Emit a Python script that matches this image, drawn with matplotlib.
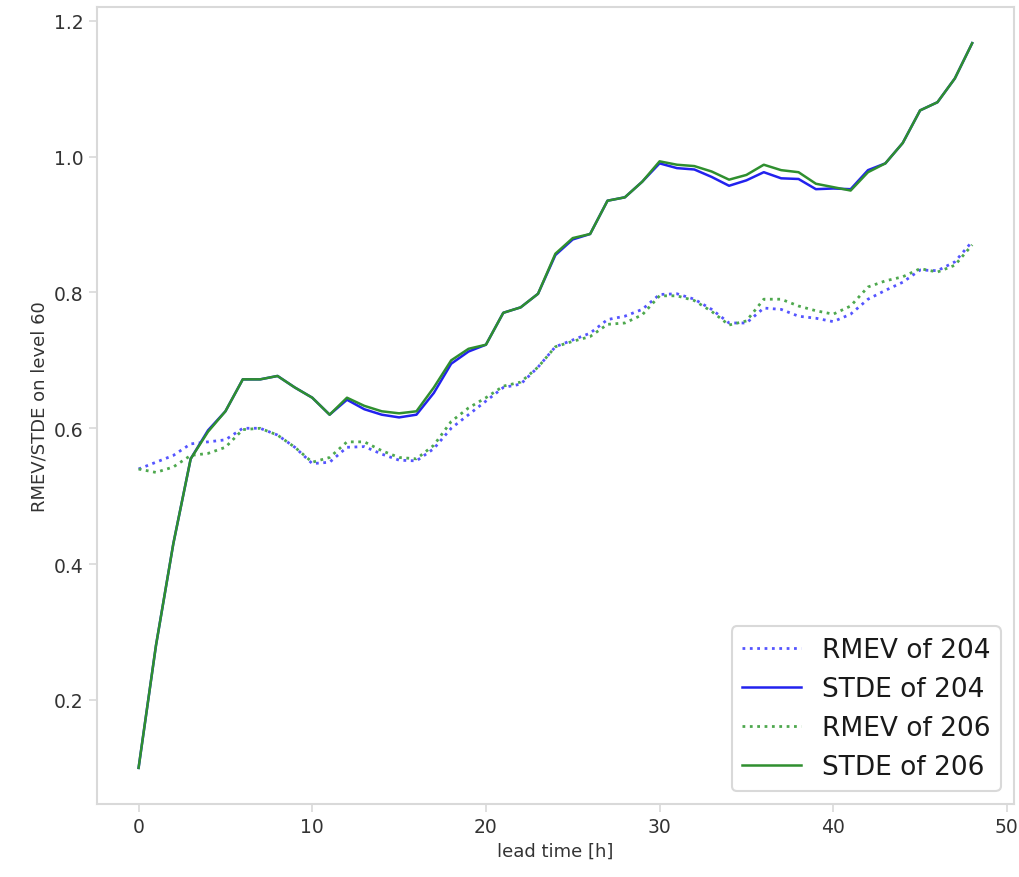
import numpy as np
import matplotlib
matplotlib.use("Agg")
import matplotlib.pyplot as plt

lead_time = np.arange(0, 49)

rmev_204 = [0.540, 0.550, 0.560, 0.577, 0.580, 0.583, 0.600, 0.600, 0.590, 0.572,
            0.548, 0.550, 0.572, 0.573, 0.562, 0.553, 0.552, 0.570, 0.600, 0.620,
            0.640, 0.660, 0.665, 0.690, 0.720, 0.730, 0.740, 0.760, 0.765, 0.775,
            0.797, 0.798, 0.790, 0.775, 0.755, 0.755, 0.777, 0.775, 0.765, 0.762,
            0.757, 0.768, 0.790, 0.803, 0.815, 0.833, 0.832, 0.845, 0.875]

stde_204 = [0.100, 0.280, 0.430, 0.555, 0.597, 0.625, 0.672, 0.672, 0.677, 0.660,
            0.645, 0.620, 0.642, 0.628, 0.620, 0.616, 0.620, 0.652, 0.695, 0.713,
            0.723, 0.770, 0.778, 0.798, 0.855, 0.878, 0.886, 0.935, 0.940, 0.963,
            0.990, 0.983, 0.981, 0.970, 0.957, 0.965, 0.977, 0.968, 0.967, 0.952,
            0.953, 0.952, 0.980, 0.990, 1.020, 1.068, 1.080, 1.115, 1.167]

rmev_206 = [0.540, 0.535, 0.543, 0.560, 0.563, 0.572, 0.598, 0.600, 0.590, 0.572,
            0.550, 0.557, 0.580, 0.580, 0.567, 0.557, 0.555, 0.575, 0.610, 0.630,
            0.645, 0.662, 0.668, 0.690, 0.720, 0.728, 0.735, 0.753, 0.755, 0.767,
            0.795, 0.795, 0.788, 0.772, 0.752, 0.758, 0.790, 0.790, 0.780, 0.773,
            0.768, 0.780, 0.808, 0.817, 0.823, 0.835, 0.830, 0.840, 0.870]

stde_206 = [0.100, 0.280, 0.430, 0.555, 0.595, 0.625, 0.672, 0.672, 0.677, 0.660,
            0.645, 0.620, 0.645, 0.633, 0.625, 0.622, 0.625, 0.660, 0.700, 0.717,
            0.723, 0.770, 0.778, 0.798, 0.857, 0.880, 0.886, 0.935, 0.940, 0.963,
            0.993, 0.988, 0.986, 0.978, 0.966, 0.973, 0.988, 0.980, 0.977, 0.960,
            0.955, 0.950, 0.977, 0.990, 1.020, 1.068, 1.080, 1.115, 1.167]

grey = "#d9d9d9"
text_col = "#333333"

fig = plt.figure(figsize=(10.2, 8.78), dpi=100)
ax = fig.add_axes([0.095, 0.083, 0.899, 0.908])

ax.plot(lead_time, rmev_204, ":", color="#5555ff", lw=2, label="RMEV of 204")
ax.plot(lead_time, stde_204, "-", color="#2222ee", lw=1.8, label="STDE of 204")
ax.plot(lead_time, rmev_206, ":", color="#4ea84e", lw=2, label="RMEV of 206")
ax.plot(lead_time, stde_206, "-", color="#2f8f2f", lw=1.8, label="STDE of 206")

for s in ax.spines.values():
    s.set_color(grey)
    s.set_linewidth(1.5)
ax.tick_params(colors=grey, labelcolor=text_col, labelsize=13.5, length=6, width=1.2)

ax.set_xlabel("lead time [h]", fontsize=13, color=text_col)
ax.set_ylabel("RMEV/STDE on level 60", fontsize=13, color=text_col)

leg = ax.legend(loc="lower right", fontsize=19, handlelength=2.2, framealpha=1)
leg.get_frame().set_edgecolor(grey)
leg.get_frame().set_linewidth(1.5)
for t in leg.get_texts():
    t.set_color("#1a1a1a")

fig.savefig("out.png", dpi=100)
